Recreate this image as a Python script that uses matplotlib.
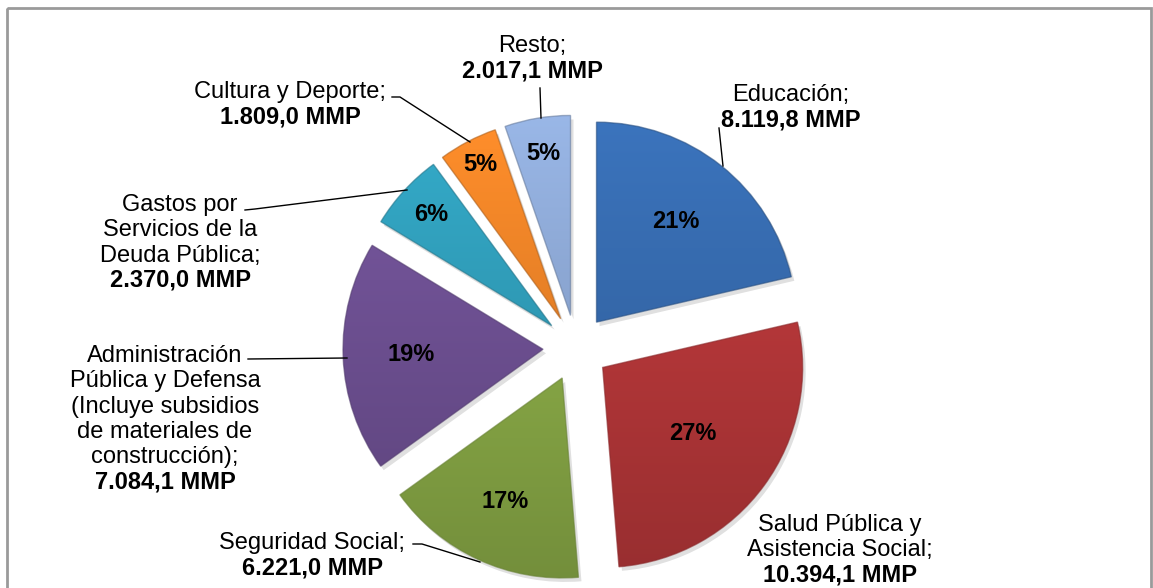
import numpy as np
import matplotlib
matplotlib.use("Agg")
import matplotlib.pyplot as plt
from matplotlib.colors import to_rgb
from matplotlib.patches import Rectangle

plt.rcParams['font.family'] = ['Liberation Sans', 'DejaVu Sans']

# datos
categorias = ['Educación', 'Salud Pública y Asistencia Social', 'Seguridad Social',
              'Administración Pública y Defensa', 'Gastos por Servicios de la Deuda Pública',
              'Cultura y Deporte', 'Resto']
valores = [8119.8, 10394.1, 6221.0, 7084.1, 2370.0, 1809.0, 2017.1]
porcentajes = ['21%', '27%', '17%', '19%', '6%', '5%', '5%']
lineas_nombre = [['Educación;'],
                 ['Salud Pública y', 'Asistencia Social;'],
                 ['Seguridad Social;'],
                 ['Administración', 'Pública y Defensa', '(Incluye subsidios',
                  'de materiales de', 'construcción);'],
                 ['Gastos por', 'Servicios de la', 'Deuda Pública;'],
                 ['Cultura y Deporte;'],
                 ['Resto;']]
colores = ['#366aad', '#b8383a', '#8cad48', '#6f5194', '#309db9', '#ea8227', '#8ca7d3']

# posiciones de etiquetas (x centro, primera linea base)
pos_etiq = [(791, 101), (840, 531), (312, 549), (165, 362), (180, 211), (290, 98), (532, 52)]
dist_pct = [0.64, 0.56, 0.68, 0.66, 0.82, 0.87, 0.82]
lideres = [[(719, 128), (723, 166)],
           None,
           [(413, 544), (422, 544), (480, 562)],
           [(248, 359), (347, 358)],
           [(245, 210), (255, 209), (407, 190)],
           [(392, 97), (400, 97), (470, 142)],
           [(540, 88), (541, 118)]]

W, H = 1153, 588
fig = plt.figure(figsize=(W / 100, H / 100), dpi=100)
ax = fig.add_axes([0, 0, 1, 1])
ax.axis('off')

cx, cy, r = 576, 348, 200
expl = 33  # desplazamiento en pixeles

# sombra
sombra, _ = ax.pie(valores, center=(cx + 3, cy + 4), radius=r, startangle=-90,
                   counterclock=True, explode=[expl] * len(valores),
                   wedgeprops=dict(facecolor='#000000', alpha=0.12, linewidth=0))
wedges, _ = ax.pie(valores, center=(cx, cy), radius=r, startangle=-90,
                   counterclock=True, explode=[expl] * len(valores),
                   colors=colores, wedgeprops=dict(linewidth=0))

# degradado vertical por sector
y0, y1 = cy - r - 40, cy + r + 40
t = np.linspace(0, 1, 200)[:, None]
for w, c in zip(wedges, colores):
    base = np.array(to_rgb(c))
    fac = 1.10 - 0.28 * t
    img = np.clip(base[None, None, :] * fac[:, :, None], 0, 1)
    img = np.repeat(img, 2, axis=1)
    im = ax.imshow(img, extent=(cx - r - 60, cx + r + 60, y1, y0), aspect='auto',
                   interpolation='bilinear', zorder=2)
    im.set_clip_path(w)
    w.set_facecolor('none')
    w.set_edgecolor(tuple(base * 0.75))
    w.set_linewidth(1.0)
    w.set_alpha(0.6)
    w.set_zorder(3)
ax.set_xlim(0, W)
ax.set_ylim(H, 0)
ax.set_aspect('auto')

# porcentajes
for w, p, d in zip(wedges, porcentajes, dist_pct):
    ang = np.deg2rad((w.theta1 + w.theta2) / 2)
    x = w.center[0] + d * r * np.cos(ang)
    y = w.center[1] + d * r * np.sin(ang)
    ax.text(x, y, p, ha='center', va='center', fontsize=17, fontweight='bold',
            color='black', zorder=5)

# etiquetas
paso = 25.3
for lineas, v, (x, y) in zip(lineas_nombre, valores, pos_etiq):
    for i, ln in enumerate(lineas):
        ax.text(x, y + i * paso, ln, ha='center', va='baseline', fontsize=17, zorder=5)
    txt = f"{v:,.1f}".replace(',', 'X').replace('.', ',').replace('X', '.') + ' MMP'
    ax.text(x, y + len(lineas) * paso, txt, ha='center', va='baseline', fontsize=17,
            fontweight='bold', zorder=5)

for pts in lideres:
    if pts is None:
        continue
    xs, ys = zip(*pts)
    ax.plot(xs, ys, color='black', lw=1.0, zorder=4)

ax.add_patch(Rectangle((7, 8), 1144, 620, fill=False, edgecolor='#9a9a9a', lw=2, zorder=6))

fig.savefig('out.png', dpi=100)
